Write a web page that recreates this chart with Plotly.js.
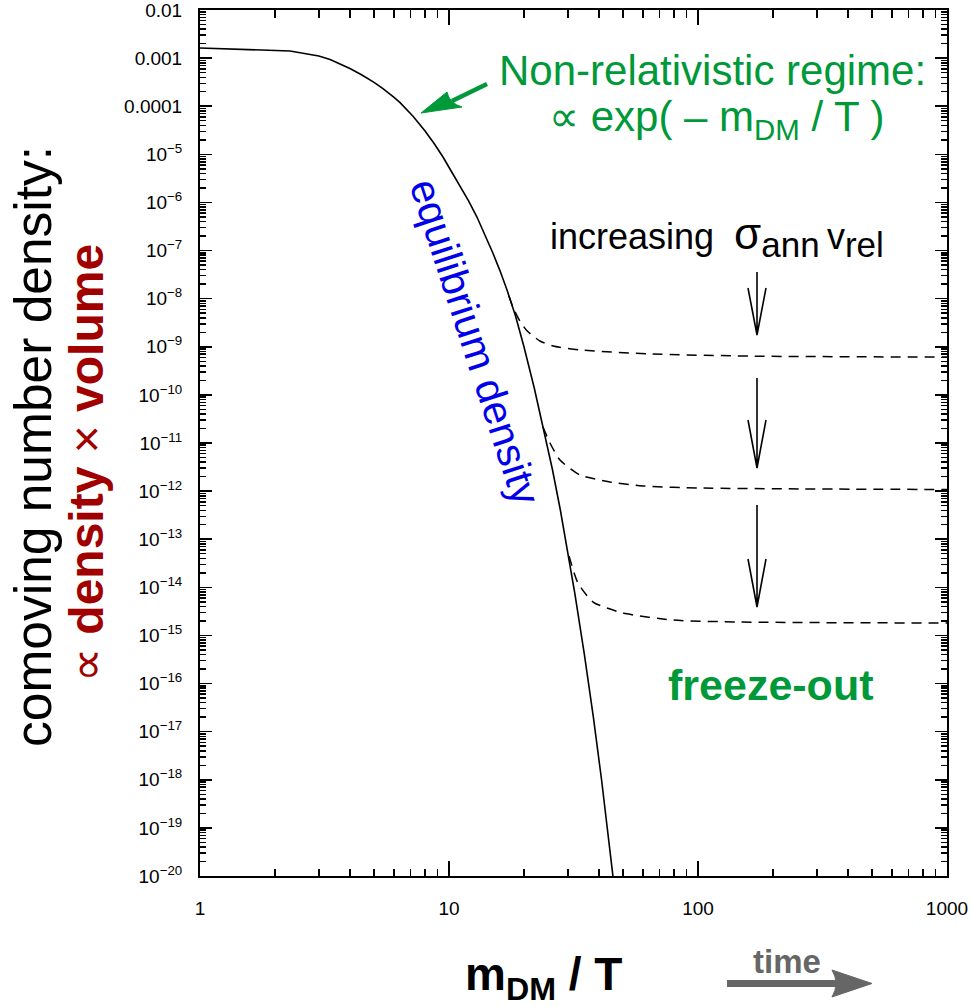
<!DOCTYPE html>
<html><head><meta charset="utf-8">
<script src="https://cdn.plot.ly/plotly-3.0.1.min.js"></script>
<style>html,body{margin:0;padding:0;background:#fff}#chart{width:971px;height:1007px}</style>
</head><body><div id="chart"></div>
<script>
// ---- data ----
const eqX = [1, 2.3, 3.0, 3.33, 4.0, 4.47, 5.0, 5.43, 6.0, 6.36, 7.17, 8.0, 8.7, 9.46, 10.2, 11.0, 12.0, 12.95, 14.0, 15.0, 16.0, 17.1, 18.5, 20, 22, 24, 26, 28, 30, 32, 35, 38, 41, 44, 45.6, 47];
const eqY = [1.62e-3, 1.41e-3, 1.11e-3, 9.35e-4, 6.08e-4, 4.46e-4, 3.13e-4, 2.32e-4, 1.54e-4, 1.19e-4, 6.17e-5, 3.10e-5, 1.70e-5, 8.8e-6, 4.5e-6, 2.31e-6, 1.07e-6, 4.98e-7, 2.06e-7, 8.9e-8, 3.88e-8, 1.51e-8, 4.37e-9, 1.0e-9, 1.39e-10, 1.95e-11, 2.88e-12, 4.05e-13, 5.69e-14, 7.6e-15, 3.92e-16, 2.01e-17, 9.9e-19, 4.84e-20, 1.0e-20, 2.5e-21];

const fo1X = [17.4, 18.07, 19.28, 20.57, 23.2, 26.2, 33.6, 64.2, 161.7, 1000];
const fo1Y = [1.13e-8, 6.6e-9, 3.4e-9, 2.15e-9, 1.32e-9, 1.04e-9, 8.6e-10, 7.1e-10, 6.4e-10, 6.1e-10];

const fo2X = [23.85, 25.44, 27.9, 33.6, 44.3, 60.1, 101.9, 256.8, 1000];
const fo2Y = [2.15e-11, 1.0e-11, 4.43e-12, 2.16e-12, 1.55e-12, 1.28e-12, 1.16e-12, 1.11e-12, 1.08e-12];

const fo3X = [30.34, 32.96, 37.9, 50.0, 79.4, 147.5, 1000];
const fo3Y = [4.48e-14, 1.23e-14, 4.95e-15, 2.92e-15, 2.09e-15, 1.90e-15, 1.81e-15];

const xTickVals = [1, 10, 100, 1000];
const xTickText = ['1', '10', '100', '1000'];
const yTickVals = [1e-2,1e-3,1e-4,1e-5,1e-6,1e-7,1e-8,1e-9,1e-10,1e-11,1e-12,1e-13,1e-14,1e-15,1e-16,1e-17,1e-18,1e-19,1e-20];
const yTickText = ['0.01','0.001','0.0001','10<sup>−5</sup>','10<sup>−6</sup>','10<sup>−7</sup>','10<sup>−8</sup>','10<sup>−9</sup>','10<sup>−10</sup>','10<sup>−11</sup>','10<sup>−12</sup>','10<sup>−13</sup>','10<sup>−14</sup>','10<sup>−15</sup>','10<sup>−16</sup>','10<sup>−17</sup>','10<sup>−18</sup>','10<sup>−19</sup>','10<sup>−20</sup>'];

// ---- styling / layout ----
const FONT = 'Liberation Sans, Arial, Helvetica, sans-serif';
const GREEN = 'rgb(0,153,57)';
const RED = 'rgb(160,0,0)';
const BLUE = 'rgb(0,0,235)';
const GRAY = 'rgb(102,102,102)';

const W = 971, H = 1007, ML = 200, MR = 24, MT = 10, MB = 131;
const PW = W - ML - MR, PH = H - MT - MB;
const PX = x => (x - ML) / PW;
const PY = y => (H - MB - y) / PH;
const P = (x, y) => PX(x).toFixed(5) + ',' + PY(y).toFixed(5);

function minorTicks(lo, hi) {
  const v = [];
  for (let e = lo; e < hi; e++) for (let m = 2; m <= 9; m++) v.push(m * Math.pow(10, e));
  return v;
}

const dashLine = {color: '#000', width: 1.5, dash: '10px,7px', shape: 'spline', smoothing: 0.6};
const traces = [
  {x: eqX, y: eqY, mode: 'lines', line: {color: '#000', width: 1.6}, hoverinfo: 'skip'},
  {x: fo1X, y: fo1Y, mode: 'lines', line: dashLine, hoverinfo: 'skip'},
  {x: fo2X, y: fo2Y, mode: 'lines', line: dashLine, hoverinfo: 'skip'},
  {x: fo3X, y: fo3Y, mode: 'lines', line: dashLine, hoverinfo: 'skip', xaxis: 'x2', yaxis: 'y2'}
];

function blackArrow(x, yTop, yHead, yTip) {
  return {type: 'path', xref: 'paper', yref: 'paper', layer: 'above',
    path: 'M' + P(x, yTop) + 'L' + P(x, yTip) + 'M' + P(x - 9, yHead) + 'L' + P(x, yTip) + 'L' + P(x + 9, yHead),
    line: {color: '#000', width: 1.6}};
}

const shapes = [
  blackArrow(757, 272, 288, 335),
  blackArrow(757, 378, 420, 468),
  blackArrow(757, 505, 559, 607),
  // green arrow
  {type: 'path', xref: 'paper', yref: 'paper', layer: 'above',
    path: 'M' + P(452, 101) + 'L' + P(487, 84), line: {color: GREEN, width: 4.5}},
  {type: 'path', xref: 'paper', yref: 'paper', layer: 'above',
    path: 'M' + P(421, 113) + 'L' + P(447, 92) + 'Q' + P(449, 103) + ' ' + P(462, 107) + 'Z',
    fillcolor: GREEN, line: {color: GREEN, width: 1}},
  // time arrow
  {type: 'path', xref: 'paper', yref: 'paper', layer: 'above',
    path: 'M' + P(727, 983.5) + 'L' + P(836, 983.5), line: {color: GRAY, width: 7}},
  {type: 'path', xref: 'paper', yref: 'paper', layer: 'above',
    path: 'M' + P(832, 970) + 'L' + P(872, 983.5) + 'L' + P(832, 997) + 'Q' + P(840, 983.5) + ' ' + P(832, 970) + 'Z',
    fillcolor: GRAY, line: {color: GRAY, width: 1}}
];

const ann = (o) => Object.assign({xref: 'paper', yref: 'paper', showarrow: false, xanchor: 'center', yanchor: 'middle'}, o);
const SUB = 'font-size:35px';

const annotations = [
  ann({text: 'Non-relativistic regime:', x: PX(712), y: PY(70), font: {family: FONT, size: 42, color: GREEN}}),
  ann({text: '∝ exp( – m<sub>DM</sub> / T )', x: PX(717), y: PY(120), font: {family: FONT, size: 42, color: GREEN}}),
  ann({text: 'equilibrium density', x: PX(475), y: PY(342), textangle: 72, font: {family: FONT, size: 41, color: BLUE}}),
  ann({text: 'increasing\u00a0\u00a0<span style="font-size:44px">σ</span><sub><span style="' + SUB + '">ann</span></sub>\u2009v<sub><span style="' + SUB + '">rel</span></sub>',
       x: PX(548), xanchor: 'left', y: PY(236), font: {family: FONT, size: 36, color: '#000'}}),
  ann({text: '<b>freeze-out</b>', x: PX(770), y: PY(685), font: {family: FONT, size: 43, color: GREEN}}),
  ann({text: 'comoving number density:', x: PX(33), y: PY(447), textangle: -90, font: {family: FONT, size: 51.5, color: '#000'}}),
  ann({text: '∝ <b>density</b> × <b>volume</b>', x: PX(86), y: PY(463), textangle: -90, font: {family: FONT, size: 48, color: RED}}),
  ann({text: '<b>m<sub>DM</sub> / T</b>', x: PX(543), y: PY(977), font: {family: FONT, size: 46, color: '#000'}}),
  ann({text: '<b>time</b>', x: PX(787), y: PY(961), font: {family: FONT, size: 33, color: GRAY}})
];

const axisCommon = {
  type: 'log', showgrid: false, zeroline: false,
  showline: true, linecolor: '#000', linewidth: 2,
  ticks: 'inside', tickcolor: '#000', tickwidth: 1.5,
  tickmode: 'array', ticklabeloverflow: 'allow',
  tickfont: {family: FONT, size: 19, color: '#000'}
};

const layout = {
  width: W, height: H,
  margin: {l: ML, r: MR, t: MT, b: MB},
  paper_bgcolor: '#fff', plot_bgcolor: '#fff',
  showlegend: false,
  xaxis: Object.assign({}, axisCommon, {
    range: [0, 3], tickvals: xTickVals, ticktext: xTickText, ticklen: 15,
    ticklabelstandoff: 14, mirror: 'ticks'
  }),
  yaxis: Object.assign({}, axisCommon, {
    range: [-20, -2], tickvals: yTickVals, ticktext: yTickText, ticklen: 12,
    ticklabelstandoff: 12, mirror: 'ticks'
  }),
  // overlay axes carrying the minor ticks
  xaxis2: Object.assign({}, axisCommon, {
    range: [0, 3], overlaying: 'x', anchor: 'y', side: 'bottom',
    tickvals: minorTicks(0, 3), ticklen: 7.5, showticklabels: false, mirror: 'ticks'
  }),
  yaxis2: Object.assign({}, axisCommon, {
    range: [-20, -2], overlaying: 'y', anchor: 'x', side: 'left',
    tickvals: minorTicks(-20, -2), ticklen: 6, showticklabels: false, mirror: 'ticks'
  }),
  shapes: shapes,
  annotations: annotations
};

Plotly.newPlot('chart', traces, layout, {staticPlot: true, displayModeBar: false});
</script>
</body></html>
